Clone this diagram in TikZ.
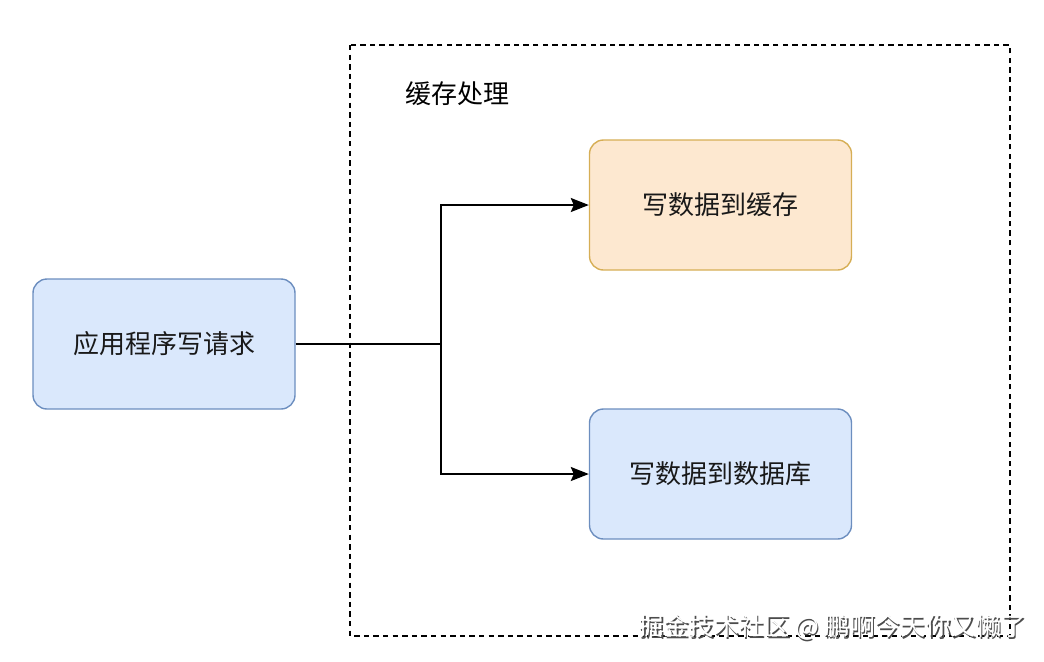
\documentclass[tikz,border=0pt]{standalone}
\usepackage{fontspec}
\newfontfamily\cjk{Noto Sans CJK SC}
\usetikzlibrary{arrows.meta}

\definecolor{dbfill}{HTML}{DAE8FC}
\definecolor{dbline}{HTML}{6C8EBF}
\definecolor{cachefill}{HTML}{FDE8D0}
\definecolor{cacheline}{HTML}{D6AE55}

\begin{document}
\begin{tikzpicture}[x=0.5pt, y=-0.5pt,
	stepbox/.style={draw, rounded corners=7pt, line width=0.7pt,
		minimum width=131pt, minimum height=65pt,
		font=\cjk\fontsize{13}{15}\selectfont, text=black!90},
	bluebox/.style={stepbox, fill=dbfill, draw=dbline},
	orangebox/.style={stepbox, fill=cachefill, draw=cacheline},
	flow/.style={line width=1pt, -{Stealth[length=9pt, width=7pt, inset=1.5pt]}}]
	\useasboundingbox (0, 0) rectangle (1044, 661);

	%% cache processing frame
	\draw[line width=1pt, dash pattern=on 2.7pt off 2.1pt] (350, 45) rectangle (1010, 636);
	\node[anchor=west, font=\cjk\fontsize{13}{15}\selectfont] (title) at (398, 94) {缓存处理};

	%% steps
	\node[bluebox] (app) at (164, 344) {应用程序写请求};
	\node[orangebox] (cache) at (720.5, 205) {写数据到缓存};
	\node[bluebox] (db) at (720.5, 474) {写数据到数据库};

	%% split point
	\coordinate (split) at (441, 344);

	%% connectors
	\draw[line width=1pt] (app.east) -- (split);
	\draw[flow] (split) |- (cache.west);
	\draw[flow] (split) |- (db.west);

	%% watermark
	\node[font=\cjk\fontsize{12.6}{14}\selectfont, text=black!70] (markshadow) at (834, 628.5) {掘金技术社区 @ 鹏啊今天你又懒了};
	\node[font=\cjk\fontsize{12.6}{14}\selectfont, text=white] (mark) at (832.5, 627) {掘金技术社区 @ 鹏啊今天你又懒了};
\end{tikzpicture}
\end{document}
